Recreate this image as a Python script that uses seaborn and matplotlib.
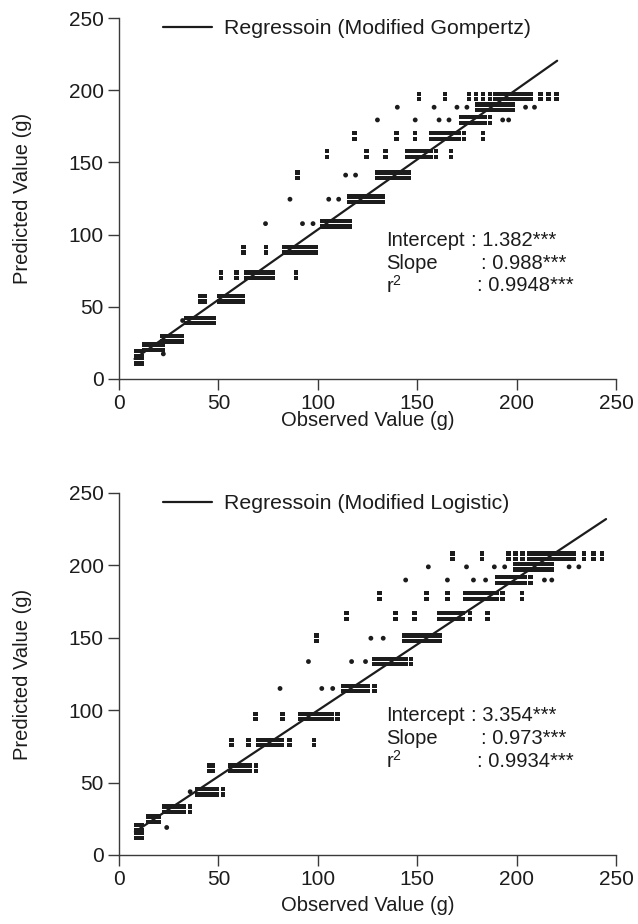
import numpy as np
import pandas as pd
import matplotlib
matplotlib.use("Agg")
import matplotlib.pyplot as plt
from matplotlib.path import Path
import seaborn as sns

# ---------------- data ----------------
# Modified Gompertz panel: predicted levels (rows) and observed values
gomp_levels = [195.6, 188.2, 179.4, 168.3, 155.8, 141.2, 124.5, 107.6,
               89.6, 71.8, 55.6, 40.5, 27.8, 22.0, 17.4, 12.7]
gomp_dense = [
    [189, 191, 193, 195, 197, 199, 201, 203, 205, 207],
    [180, 182, 184, 186, 188, 190, 192, 194, 196, 198],
    [172, 174, 176, 178, 180, 182, 184, 186.5],
    [157, 159, 161, 163, 165, 167, 169, 171, 173.5],
    [145, 147, 149, 151, 153, 155, 157, 159.5],
    [130, 132, 134, 136, 138, 140, 142, 144, 146],
    [116, 118, 120, 122, 124, 126, 128, 130, 132.5],
    [102, 104, 106, 108, 110, 112, 114, 116],
    [83, 85, 87, 89, 91, 93, 95, 97, 99],
    [64, 66, 68, 70, 72, 74, 76, 77.5],
    [50.5, 52.5, 54.5, 56.5, 58.5, 60.5, 62.5],
    [34, 36, 38, 40, 42, 44, 46, 47.5],
    [21.5, 23.5, 25.5, 27.5, 29.5, 31.5],
    [12.5, 14.5, 16.5, 18.5, 20],
    [8.5, 10, 11.5],
    [8.5, 10, 11.5],
]
gomp_pairs = [
    [151, 164, 176, 179.5, 183, 186.5, 212, 216, 220],
    [], [], [118.5, 139.5, 149, 183], [104.5, 124.5, 134, 167], [89.7],
    [], [], [62.7, 74], [51.4, 59.2, 89], [41, 43], [], [], [22], [], [],
]
gomp_single = [
    [], [140, 158.5, 170, 175, 204.5, 209], [130, 149, 161, 166, 193, 196],
    [], [], [114, 119], [86, 105.5, 110.5], [73.7, 92.3, 97.6],
    [], [], [], [32], [], [], [22.3], [],
]
gomp_line_x = [7.8, 220.4]
gomp_line_y = [13.9, 220.4]
gomp_stats = ["1.382***", "0.988***", "0.9948***"]

# Modified Logistic panel
logi_levels = [206.4, 199.0, 189.9, 178.9, 165.0, 149.7, 133.6, 115.0,
               95.6, 77.7, 59.8, 43.7, 31.7, 24.8, 19.0, 13.5]
logi_dense = [
    [209, 211, 213, 215, 217, 219, 221, 223, 225, 227, 229],
    [199.5, 201.5, 203.5, 205.5, 207.5, 209.5, 211.5, 213.5, 215.5, 217.5],
    [190, 192, 194, 196, 198, 200, 202, 204, 207],
    [174, 176, 178, 180, 182, 184, 186, 188, 190, 193],
    [161, 163, 165, 167, 169, 171, 173, 176.5],
    [143.5, 145.5, 147.5, 149.5, 151.5, 153.5, 155.5, 157.5, 159.5, 161.5],
    [128.5, 130.5, 132.5, 134.5, 136.5, 138.5, 140.5, 142.5, 144.5, 147],
    [113, 115, 117, 119, 121, 123, 125, 128.5],
    [91, 93, 95, 97, 99, 101, 103, 105, 107, 110],
    [70, 72, 74, 76, 78, 80, 82, 85.7],
    [56, 58, 60, 62, 64, 66, 69],
    [39.3, 41.3, 43.3, 45.3, 47.3, 49.3, 52.4],
    [22.7, 24.7, 26.7, 28.7, 30.7, 32.7, 35.8],
    [14.9, 16.5, 18.5, 20.1],
    [8.5, 10, 11.5],
    [8.5, 10, 11.5],
]
logi_pairs = [
    [167.8, 182.7, 196, 199.5, 203, 206.5, 234, 238.6, 243],
    [], [], [131, 154.7, 165.2, 202.8], [114.5, 139, 148.6, 185.3], [99.3],
    [], [], [68.7, 82.2], [56.5, 65.2, 98], [45.5, 47.2], [], [], [], [], [],
]
logi_single = [
    [], [155.6, 174.8, 188.8, 194, 226.4, 231.3],
    [144.2, 165.2, 178.3, 184.4, 214, 217.7],
    [], [], [126.7, 132.9], [95.3, 117, 124], [81, 102, 107.5],
    [], [], [], [35.8], [], [], [24], [],
]
logi_line_x = [8.0, 245.0]
logi_line_y = [16.0, 232.0]
logi_stats = ["3.354***", "0.973***", "0.9934***"]

stat_labels = ["Intercept", "Slope", "r$^{2}$"]
x_ticks = [0, 50, 100, 150, 200, 250]
y_ticks = [0, 50, 100, 150, 200, 250]


def build_frame(levels, dense, pairs, single):
    rows = []
    for lv, d, p, s in zip(levels, dense, pairs, single):
        for v in d:
            rows.append((v, lv, "bar"))
        for v in p:
            rows.append((v, lv, "bar"))
        for v in s:
            rows.append((v, lv, "dot"))
    return pd.DataFrame(rows, columns=["observed", "predicted", "kind"])


# ---------------- style ----------------
sns.set_theme(style="ticks")
plt.rcParams["font.family"] = ["Liberation Sans", "DejaVu Sans"]
plt.rcParams["mathtext.fontset"] = "custom"
plt.rcParams["mathtext.rm"] = "Liberation Sans"
plt.rcParams["mathtext.it"] = "Liberation Sans"
plt.rcParams["mathtext.default"] = "regular"

INK = "#1c1c1c"
AXC = "#3a3a3a"
FS_TICK = 15
FS_LAB = 14.5
FS_LEG = 15.3
FS_TXT = 14.5

# colon-like marker: two small stacked dots
colon_verts = [(-0.45, 0.12), (0.45, 0.12), (0.45, 1.0), (-0.45, 1.0), (-0.45, 0.12),
               (-0.45, -1.0), (0.45, -1.0), (0.45, -0.12), (-0.45, -0.12), (-0.45, -1.0)]
colon_codes = [Path.MOVETO, Path.LINETO, Path.LINETO, Path.LINETO, Path.CLOSEPOLY] * 2
colon_marker = Path(colon_verts, colon_codes)

fig = plt.figure(figsize=(6.38, 9.24), dpi=100)
ax1 = fig.add_axes([119 / 638, 1 - 379 / 924, 497 / 638, 361 / 924])
ax2 = fig.add_axes([119 / 638, 1 - 855 / 924, 497 / 638, 362 / 924])

panels = [
    (ax1, build_frame(gomp_levels, gomp_dense, gomp_pairs, gomp_single),
     gomp_line_x, gomp_line_y, "Regressoin (Modified Gompertz)", gomp_stats,
     [95.8, 80.0, 64.5], [177.0, 182.0, 180.0], -0.09),
    (ax2, build_frame(logi_levels, logi_dense, logi_pairs, logi_single),
     logi_line_x, logi_line_y, "Regressoin (Modified Logistic)", logi_stats,
     [96.0, 80.2, 64.8], [177.0, 182.0, 180.0], -0.112),
]

for ax, df, lx, ly, lab, stats, sy, cx, xlab_y in panels:
    bars = df[df["kind"] == "bar"]
    dots = df[df["kind"] == "dot"]
    sns.scatterplot(data=bars, x="observed", y="predicted", marker=colon_marker,
                    s=50, color=INK, linewidth=0, edgecolor="none", ax=ax,
                    legend=False, zorder=2)
    sns.scatterplot(data=dots, x="observed", y="predicted", marker="o",
                    s=12, color=INK, linewidth=0, edgecolor="none", ax=ax,
                    legend=False, zorder=2)
    sns.lineplot(x=lx, y=ly, color=INK, linewidth=1.6, ax=ax, label=lab,
                 zorder=3)

    ax.set_xlim(0, 250)
    ax.set_ylim(0, 250)
    ax.set_xticks(x_ticks)
    ax.set_yticks(y_ticks)
    ax.tick_params(axis="both", direction="out", length=8, width=1.0,
                   color=AXC, labelsize=FS_TICK, labelcolor=INK, pad=3)
    sns.despine(ax=ax)
    for sp in ("left", "bottom"):
        ax.spines[sp].set_color(AXC)
        ax.spines[sp].set_linewidth(1.0)

    ax.set_xlabel("Observed Value (g)", fontsize=FS_LAB, color=INK)
    ax.set_ylabel("Predicted Value (g)", fontsize=FS_LAB, color=INK)
    ax.yaxis.set_label_coords(-0.175, 0.5)
    ax.xaxis.set_label_coords(0.5, xlab_y)

    leg = ax.legend(loc="center left", bbox_to_anchor=(0.089, 0.97),
                    frameon=False, fontsize=FS_LEG, handlelength=2.3,
                    handletextpad=0.55, borderpad=0, borderaxespad=0)
    for t in leg.get_texts():
        t.set_color(INK)

    for i in range(3):
        ax.text(134.5, sy[i], stat_labels[i], fontsize=FS_TXT, color=INK,
                ha="left", va="center")
        ax.text(cx[i], sy[i], ": " + stats[i], fontsize=FS_TXT, color=INK,
                ha="left", va="center")

fig.savefig("out.png", dpi=100, facecolor="white")
